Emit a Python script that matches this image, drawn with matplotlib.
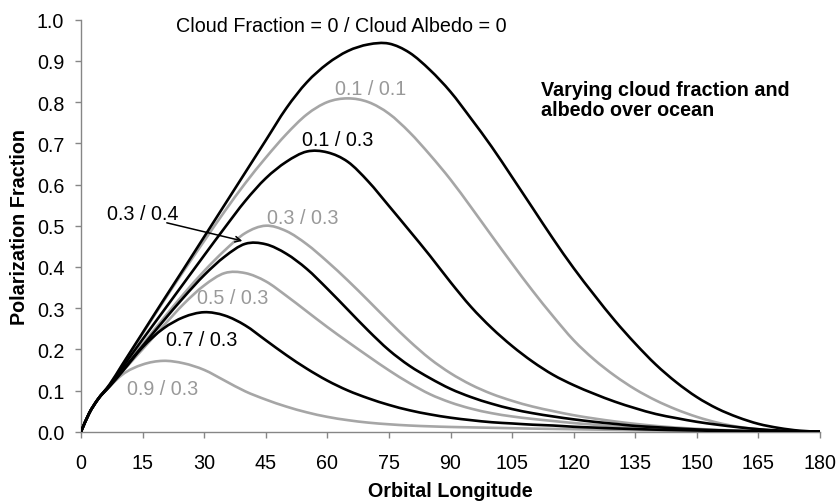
import matplotlib
matplotlib.use("Agg")
import matplotlib.pyplot as plt
from matplotlib.path import Path
from matplotlib.patches import PathPatch

# 궤도 경도 (deg)
longitude = [0, 2, 4, 7, 10, 15, 20, 25, 30, 35, 40, 45, 50, 55, 60, 65, 70, 75, 80, 85,
             90, 95, 100, 105, 110, 115, 120, 125, 130, 135, 140, 145, 150, 155, 160,
             165, 170, 175, 180]

# 구름 비율 / 구름 알베도 별 편광 비율
pol_00_00 = [0, 0.045, 0.077, 0.115, 0.162, 0.240, 0.318, 0.395, 0.473, 0.551, 0.629, 0.707,
             0.785, 0.848, 0.893, 0.924, 0.940, 0.942, 0.920, 0.878, 0.825, 0.760, 0.692,
             0.618, 0.543, 0.468, 0.397, 0.332, 0.270, 0.214, 0.163, 0.120, 0.084, 0.056,
             0.035, 0.019, 0.009, 0.0025, 0]
pol_01_01 = [0, 0.045, 0.077, 0.115, 0.161, 0.238, 0.315, 0.390, 0.463, 0.535, 0.603, 0.665,
             0.722, 0.770, 0.800, 0.809, 0.800, 0.772, 0.727, 0.672, 0.612, 0.545, 0.476,
             0.408, 0.342, 0.280, 0.222, 0.175, 0.136, 0.103, 0.076, 0.054, 0.036, 0.022,
             0.012, 0.006, 0.002, 0.0005, 0]
pol_01_03 = [0, 0.045, 0.077, 0.113, 0.155, 0.224, 0.292, 0.360, 0.428, 0.495, 0.560, 0.615,
             0.655, 0.680, 0.678, 0.655, 0.607, 0.548, 0.488, 0.427, 0.363, 0.303, 0.252,
             0.208, 0.170, 0.138, 0.113, 0.092, 0.073, 0.057, 0.043, 0.033, 0.024, 0.017,
             0.011, 0.006, 0.003, 0.001, 0]
pol_03_03 = [0, 0.045, 0.077, 0.112, 0.150, 0.212, 0.274, 0.334, 0.390, 0.440, 0.482, 0.500,
             0.487, 0.455, 0.413, 0.367, 0.318, 0.268, 0.220, 0.177, 0.142, 0.114, 0.092,
             0.075, 0.061, 0.050, 0.040, 0.032, 0.025, 0.019, 0.014, 0.010, 0.007, 0.0045,
             0.0028, 0.0015, 0.0007, 0.0002, 0]
pol_03_04 = [0, 0.045, 0.077, 0.112, 0.148, 0.208, 0.268, 0.326, 0.380, 0.425, 0.456, 0.455,
             0.432, 0.395, 0.347, 0.296, 0.245, 0.198, 0.160, 0.130, 0.104, 0.084, 0.068,
             0.055, 0.045, 0.037, 0.030, 0.024, 0.019, 0.014, 0.011, 0.008, 0.0055, 0.0035,
             0.002, 0.001, 0.0005, 0.0001, 0]
pol_05_03 = [0, 0.045, 0.077, 0.111, 0.145, 0.200, 0.256, 0.310, 0.355, 0.385, 0.385, 0.365,
             0.330, 0.292, 0.254, 0.218, 0.183, 0.149, 0.118, 0.091, 0.071, 0.056, 0.045,
             0.037, 0.031, 0.026, 0.021, 0.017, 0.013, 0.010, 0.0075, 0.0055, 0.004, 0.0027,
             0.0017, 0.001, 0.0005, 0.0001, 0]
pol_07_03 = [0, 0.045, 0.077, 0.110, 0.145, 0.205, 0.250, 0.278, 0.290, 0.282, 0.258, 0.222,
             0.186, 0.153, 0.124, 0.100, 0.081, 0.065, 0.052, 0.042, 0.034, 0.028, 0.023,
             0.020, 0.017, 0.015, 0.012, 0.010, 0.008, 0.0065, 0.005, 0.004, 0.003, 0.002,
             0.0013, 0.0008, 0.0004, 0.0001, 0]
pol_09_03 = [0, 0.045, 0.077, 0.110, 0.138, 0.163, 0.172, 0.166, 0.150, 0.124, 0.098, 0.078,
             0.061, 0.047, 0.036, 0.028, 0.022, 0.018, 0.015, 0.013, 0.0115, 0.0105, 0.0095,
             0.0085, 0.0075, 0.0068, 0.006, 0.0052, 0.0045, 0.0037, 0.003, 0.0025, 0.002,
             0.0016, 0.0012, 0.0008, 0.0005, 0.0002, 0]

series = [pol_00_00, pol_01_01, pol_01_03, pol_03_03, pol_03_04, pol_05_03, pol_07_03, pol_09_03]
labels = ["Cloud Fraction = 0 / Cloud Albedo = 0", "0.1 / 0.1", "0.1 / 0.3", "0.3 / 0.3",
          "0.3 / 0.4", "0.5 / 0.3", "0.7 / 0.3", "0.9 / 0.3"]
# 라벨 위치 (x, y) - 데이터 좌표
label_pos = [(63.5, 0.985), (70.6, 0.832), (62.5, 0.71), (54.0, 0.521),
             (15.1, 0.53), (36.9, 0.325), (29.3, 0.223), (20.0, 0.106)]

BLACK = "#000000"
GRAY = "#a6a6a6"
GRAY_TXT = "#999999"


def smooth_path(xs, ys):
    """엑셀 '부드러운 선' 처럼 점들을 3차 베지어로 연결"""
    n = len(xs)
    h = [xs[i + 1] - xs[i] for i in range(n - 1)]
    d = [(ys[i + 1] - ys[i]) / h[i] for i in range(n - 1)]
    m = [d[0]]
    for i in range(1, n - 1):
        m.append((d[i - 1] * h[i] + d[i] * h[i - 1]) / (h[i - 1] + h[i]))
    m.append(d[-1])

    verts = [(xs[0], ys[0])]
    codes = [Path.MOVETO]
    for i in range(n - 1):
        verts += [(xs[i] + h[i] / 3, ys[i] + m[i] * h[i] / 3),
                  (xs[i + 1] - h[i] / 3, ys[i + 1] - m[i + 1] * h[i] / 3),
                  (xs[i + 1], ys[i + 1])]
        codes += [Path.CURVE4] * 3
    return Path(verts, codes)


plt.rcParams['font.family'] = ['Liberation Sans', 'DejaVu Sans']
plt.rcParams['font.size'] = 14.2

fig = plt.figure(figsize=(8.4, 5.02), dpi=100)
ax = fig.add_axes([81 / 840, (502 - 432.7) / 502, 739 / 840, 412 / 502])

for i, ys in enumerate(series):
    color = BLACK if i % 2 == 0 else GRAY
    patch = PathPatch(smooth_path(longitude, ys), facecolor='none', edgecolor=color,
                      linewidth=1.9, capstyle='round', joinstyle='round', zorder=3 - i % 2)
    ax.add_patch(patch)

for i, (txt, (lx, ly)) in enumerate(zip(labels, label_pos)):
    color = BLACK if i % 2 == 0 else GRAY_TXT
    ax.text(lx, ly, txt, color=color, ha='center', va='center')

# 0.3 / 0.4 라벨 화살표
ax.annotate('', xy=(39.3, 0.463), xytext=(20.9, 0.507),
            arrowprops=dict(arrowstyle='->', color='black', lw=1.1,
                            mutation_scale=10, shrinkA=0, shrinkB=0))

ax.text(112, 0.806, "Varying cloud fraction and\nalbedo over ocean",
        fontweight='bold', ha='left', va='center', linespacing=1.07)

ax.set_xlim(0, 180)
ax.set_ylim(0, 1.0)
ax.set_xticks(range(0, 181, 15))
ax.set_yticks([i / 10 for i in range(11)])
ax.set_yticklabels([f"{i / 10:.1f}" for i in range(11)])

for side in ['top', 'right']:
    ax.spines[side].set_visible(False)
for side in ['left', 'bottom']:
    ax.spines[side].set_color('#868686')
    ax.spines[side].set_linewidth(1.0)
ax.tick_params(direction='out', length=4, width=1.0, color='#868686', pad=8)
ax.tick_params(axis='x', pad=11)

ax.set_xlabel("Orbital Longitude", fontweight='bold', va='center')
ax.xaxis.set_label_coords(0.5, (432.7 - 492) / 412)
ax.set_ylabel("Polarization Fraction", fontweight='bold', va='center', ha='center')
ax.yaxis.set_label_coords((20 - 81) / 739, 0.5)

fig.savefig("out.png", dpi=100)
